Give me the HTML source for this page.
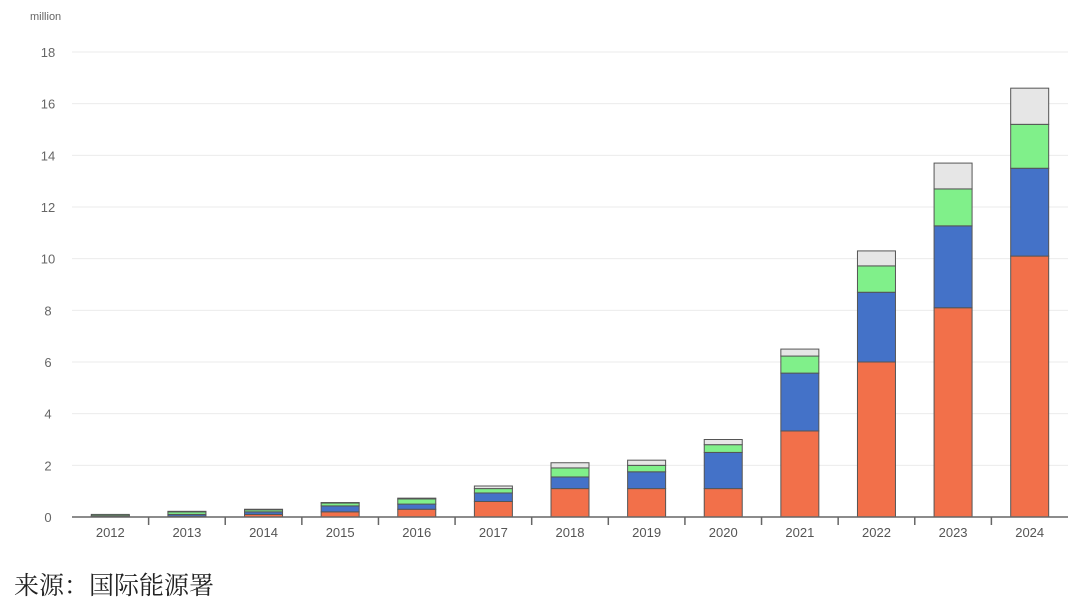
<!DOCTYPE html>
<html><head><meta charset="utf-8"><style>
body{margin:0;background:#fff;width:1080px;height:615px;overflow:hidden}
svg text{font-family:"Liberation Sans",sans-serif}
.src{position:absolute;left:14px;top:566px;font-family:"Liberation Serif","Noto Serif CJK SC",serif;font-size:25px;color:#222}
</style></head><body>
<svg id="chart" width="1080" height="615" style="position:absolute;left:0;top:0"></svg>
<div class="src">来源：国际能源署</div>
<script>
const categories=["2012","2013","2014","2015","2016","2017","2018","2019","2020","2021","2022","2023","2024"];
const seriesA=[0.02,0.03,0.1,0.2,0.3,0.6,1.1,1.1,1.1,3.33,6.0,8.1,10.1];
const seriesB=[0.03,0.07,0.1,0.23,0.2,0.33,0.45,0.65,1.4,2.24,2.7,3.17,3.4];
const seriesC=[0.05,0.1,0.08,0.11,0.2,0.17,0.35,0.25,0.3,0.66,1.02,1.43,1.7];
const seriesD=[0,0.02,0.02,0.02,0.03,0.1,0.2,0.2,0.2,0.27,0.58,1.0,1.4];
const yTicks=[0,2,4,6,8,10,12,14,16,18];
const colors=["#f2704a","#4472c8","#80f08a","#e6e6e6"];
const svg=document.getElementById('chart');
const NS="http://www.w3.org/2000/svg";
const y0=517,yTop=52,yMax=18,xL=72,xR=1068;
const band=(xR-xL)/categories.length;
function y(v){return y0-(v/yMax)*(y0-yTop);}
function xc(i){return xL+band*(i+0.5);}
function mk(t,a){const e=document.createElementNS(NS,t);for(const k in a)e.setAttribute(k,a[k]);svg.appendChild(e);return e;}
let t=mk('text',{x:30,y:20,'font-size':11,fill:'#666'});t.textContent='million';


yTicks.forEach(v=>{
  if(v>0){const g=mk('line',{x1:xL,x2:xR,y1:y(v),y2:y(v),stroke:'#ebebeb','stroke-width':1});
  
  }
  const l=mk('text',{x:48,y:y(v)+5,'font-size':13,fill:'#666','text-anchor':'middle'});l.textContent=v;
  
  
});
const series=[seriesA,seriesB,seriesC,seriesD];
const names=['series-a','series-b','series-c','series-d'];
categories.forEach((c,i)=>{
  let base=0;
  series.forEach((s,k)=>{
    const v=s[i];if(v<=0)return;
    const r=mk('rect',{x:xc(i)-19,y:y(base+v),width:38,height:y(base)-y(base+v),fill:colors[k],stroke:'#555','stroke-width':1});
    
    
    base+=v;
  });
  const l=mk('text',{x:xc(i),y:537,'font-size':13,fill:'#555','text-anchor':'middle'});l.textContent=c;
  
  
});
const ax=mk('line',{x1:xL,x2:xR,y1:y0,y2:y0,stroke:'#666','stroke-width':1.5});


for(let i=1;i<categories.length;i++){
  const tk=mk('line',{x1:xL+band*i,x2:xL+band*i,y1:y0,y2:y0+8,stroke:'#666','stroke-width':1.5});
  
  
}
</script>
</body></html>
